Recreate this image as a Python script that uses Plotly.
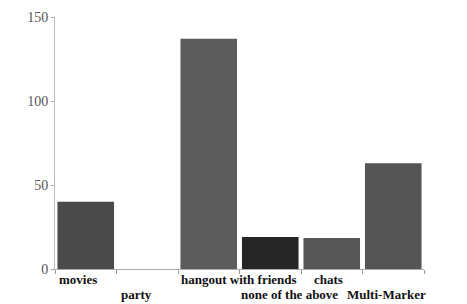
import plotly.graph_objects as go

categories = ["movies", "party", "hangout with friends", "none of the above", "chats", "Multi-Marker"]
values = [40, 0, 137, 19, 18.5, 63]
bar_colors = ["#4a4a4a", "#5a5a5a", "#5c5c5c", "#262626", "#565656", "#555555"]
y_ticks = [0, 50, 100, 150]

# label placement styling (row, anchor, pixel shift)
label_row = [0, 1, 0, 1, 0, 1]
label_anchor = ["left", "left", "left", "left", "right", "left"]
label_shift = [-28, -27, -29, -30, 12, -47]

fig = go.Figure(go.Bar(x=categories, y=values, marker=dict(color=bar_colors, line=dict(width=0))))
for cat, row, anc, sh in zip(categories, label_row, label_anchor, label_shift):
    fig.add_annotation(
        x=cat, xref="x", y=0, yref="paper", yanchor="top", xanchor=anc,
        xshift=sh, yshift=-2 - 15 * row, showarrow=False,
        text="<b>" + cat + "</b>", borderpad=0,
        font=dict(family="Liberation Serif", size=13, color="#111"),
    )
fig.update_layout(
    width=467, height=304,
    margin=dict(l=47, r=51, t=9, b=43, autoexpand=False),
    paper_bgcolor="white", plot_bgcolor="white",
    bargap=0.08, showlegend=False,
    font=dict(family="Liberation Serif"),
)
fig.update_xaxes(
    showticklabels=False,
    tickson="boundaries", ticks="outside", ticklen=4, tickcolor="#999",
    showline=True, linecolor="#aaa", linewidth=1, showgrid=False,
    range=[-0.5, 5.5], automargin=False,
)
fig.update_yaxes(
    range=[0, 150], tickvals=y_ticks,
    tickfont=dict(family="Liberation Serif", size=14, color="#555"),
    ticks="outside", ticklen=3, tickcolor="#aaa",
    showline=True, linecolor="#bbb", linewidth=1, showgrid=False, zeroline=False,
    automargin=False,
)
fig.write_html("out.html")
